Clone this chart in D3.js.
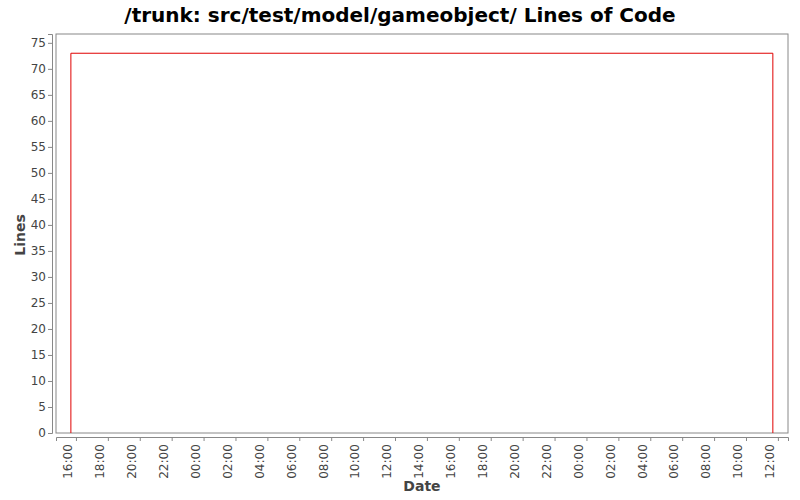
<!DOCTYPE html>
<html><head><meta charset="utf-8">
<script src="https://cdn.jsdelivr.net/npm/d3@7"></script>
<style>body{margin:0;background:#fff}</style></head>
<body><svg id="c" width="800" height="500"></svg>
<script>
const dates = ["2010-01-01T15:41","2010-01-01T15:41","2010-01-03T11:41","2010-01-03T11:41"];
const lines = [0,73,73,0];
const yTicks = [0,5,10,15,20,25,30,35,40,45,50,55,60,65,70,75];
const parse = d3.timeParse("%Y-%m-%dT%H:%M");
const data = dates.map((d,i)=>({t:parse(d),v:lines[i]}));
const svg = d3.select("#c");
const L=56,R=788,T=34,B=433;
const x = d3.scaleTime().domain([parse("2010-01-01T14:45"),parse("2010-01-03T12:38")]).range([L,R]);
const y = d3.scaleLinear().domain([0,76.7]).range([B,T]);
svg.append("text").attr("x",400).attr("y",22).attr("text-anchor","middle")
  .attr("font-family","DejaVu Sans").attr("font-weight","bold").attr("font-size",20).text("/trunk: src/test/model/gameobject/ Lines of Code");
svg.append("rect").attr("x",L).attr("y",T).attr("width",R-L).attr("height",B-T).attr("fill","#fff").attr("stroke","#888");
const ya = svg.append("g").attr("transform","translate(52,0)")
  .call(d3.axisLeft(y).tickValues(yTicks).tickSize(4).tickPadding(2));
const xa = svg.append("g").attr("transform","translate(0,437)")
  .call(d3.axisBottom(x).ticks(d3.timeHour.every(2)).tickFormat(d3.timeFormat("%H:%M")).tickSize(4));
xa.selectAll("text").attr("transform","rotate(-90)").attr("text-anchor","end").attr("dx","-0.6em").attr("dy","-0.35em").attr("x",0).attr("y",0);
[ya,xa].forEach(a=>{a.selectAll("path,line").attr("stroke","#888");a.selectAll("text").attr("fill","#444").attr("font-size",12).attr("font-family","DejaVu Sans");});
svg.append("path").datum(data).attr("fill","none").attr("stroke","#e00000").attr("stroke-width",1)
  .attr("d",d3.line().x(d=>x(d.t)).y(d=>y(d.v)));
svg.append("text").attr("transform","translate(25,235) rotate(-90)").attr("text-anchor","middle")
  .attr("font-family","DejaVu Sans").attr("font-weight","bold").attr("font-size",14).attr("fill","#444").text("Lines");
svg.append("text").attr("x",422).attr("y",491).attr("text-anchor","middle")
  .attr("font-family","DejaVu Sans").attr("font-weight","bold").attr("font-size",14).attr("fill","#444").text("Date");
</script></body></html>
